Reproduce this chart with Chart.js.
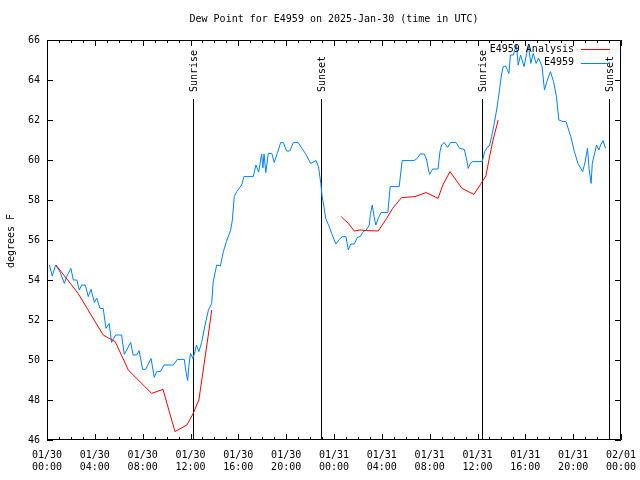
<!DOCTYPE html>
<html>
<head>
<meta charset="utf-8">
<script src="https://cdn.jsdelivr.net/npm/chart.js@4.4.1/dist/chart.umd.min.js"></script>
<style>
  html, body { margin: 0; padding: 0; background: #fff; }
</style>
</head>
<body>
<canvas id="chart" width="640" height="480"></canvas>
<script>
// hours since 01/30 00:00 UTC
const stationHours = [0.2, 0.44, 0.72, 1.09, 1.45, 1.64, 2.0, 2.2, 2.5, 2.7, 2.9, 3.2, 3.45, 3.68, 3.96, 4.15, 4.43, 4.7, 4.93, 5.2,
  5.4, 5.74, 6.24, 6.46, 7.0, 7.2, 7.5, 7.7, 8.0, 8.25, 8.7, 8.97, 9.17, 9.5, 9.78, 10.56, 10.9, 11.48, 11.6, 11.76,
  11.87, 12.0, 12.2, 12.37, 12.5, 12.7, 12.93, 13.2, 13.5, 13.77, 13.9, 14.19, 14.5, 14.75, 15.0, 15.36, 15.5, 15.66, 15.86, 16.28,
  16.47, 17.25, 17.47, 17.7, 17.95, 18.05, 18.15, 18.3, 18.5, 18.8, 19.0, 19.26, 19.54, 19.76, 20.04, 20.3, 20.6, 21.0, 21.6, 22.05,
  22.5, 22.7, 22.9, 23.0, 23.16, 23.3, 23.6, 23.8, 24.16, 24.44, 24.7, 25.0, 25.2, 25.4, 25.7, 25.95, 26.2, 26.45, 26.7, 26.95,
  27.05, 27.2, 27.35, 27.5, 27.7, 27.93, 28.5, 28.7, 29.45, 29.7, 30.7, 30.96, 31.2, 31.55, 31.75, 31.9, 32.0, 32.25, 32.7, 32.86,
  33.0, 33.2, 33.5, 33.75, 34.2, 34.5, 34.9, 35.1, 35.23, 35.4, 35.6, 36.4, 36.6, 36.85, 37.0, 37.18, 37.4, 37.6, 37.8, 38.0,
  38.15, 38.35, 38.63, 38.75, 39.0, 39.25, 39.4, 39.6, 39.9, 40.1, 40.27, 40.46, 40.66, 40.9, 41.1, 41.4, 41.6, 41.8, 42.1, 42.36,
  42.6, 42.8, 43.15, 43.4, 43.8, 44.1, 44.4, 44.8, 45.0, 45.2, 45.34, 45.5, 45.6, 45.76, 45.96, 46.15, 46.3, 46.5, 46.7];
const stationDew = [54.75, 54.2, 54.75, 54.4, 53.83, 54.17, 54.58, 54.0, 54.0, 53.5, 53.75, 53.75, 53.17, 53.53, 52.88, 53.1, 52.58, 52.58, 51.58, 51.83,
  50.88, 51.25, 51.25, 50.28, 50.88, 50.25, 50.25, 50.47, 49.53, 49.53, 50.08, 49.13, 49.42, 49.42, 49.75, 49.75, 50.03, 50.03, 49.5, 48.97,
  49.75, 50.33, 50.08, 50.42, 50.75, 50.42, 50.88, 51.7, 52.5, 52.83, 53.92, 54.75, 54.7, 55.42, 55.92, 56.5, 57.0, 58.17, 58.42, 58.75,
  59.17, 59.17, 59.75, 59.4, 60.3, 59.6, 60.3, 59.37, 60.33, 60.33, 59.88, 60.33, 60.87, 60.87, 60.45, 60.45, 60.87, 60.87, 60.33, 59.83,
  59.97, 59.67, 58.83, 58.2, 57.67, 57.08, 56.67, 56.33, 55.8, 56.03, 56.17, 56.17, 55.5, 55.8, 55.8, 56.13, 56.17, 56.42, 56.5, 56.75,
  57.33, 57.75, 57.17, 56.75, 57.08, 57.37, 57.37, 58.67, 58.67, 59.97, 59.97, 60.08, 60.3, 60.3, 60.0, 59.5, 59.28, 59.55, 59.55, 60.42,
  60.75, 60.88, 60.63, 60.88, 60.88, 60.58, 60.53, 60.0, 59.58, 59.83, 59.92, 59.92, 60.42, 60.67, 60.7, 61.17, 61.83, 62.5, 63.33, 64.25,
  64.67, 64.7, 64.33, 65.25, 65.25, 65.8, 64.75, 65.25, 64.67, 65.33, 65.67, 64.83, 65.33, 64.83, 65.1, 64.67, 63.5, 63.92, 64.42, 63.92,
  63.17, 62.0, 61.92, 61.92, 61.17, 60.42, 59.83, 59.42, 59.92, 60.58, 59.5, 58.83, 59.83, 60.25, 60.75, 60.5, 60.75, 60.97, 60.58];

// analysis, null breaks the line
const analysisHours = [0.75, 2.6, 4.7, 5.7, 6.8, 8.75, 9.7, 10.7, 11.7, 12.2, 12.7, 13.5, 13.77, 19.0,
  24.6, 25.2, 25.7, 26.2, 26.7, 27.7, 28.4, 28.9, 29.65, 30.77, 31.7, 32.7, 33.1, 33.7, 34.7, 35.7, 36.3, 36.7, 37.04, 37.3, 37.73];
const analysisDew = [54.75, 53.33, 51.25, 50.92, 49.5, 48.33, 48.53, 46.42, 46.75, 47.3, 48.0, 51.3, 52.5, null,
  57.17, 56.83, 56.45, 56.5, 56.47, 56.45, 57.08, 57.58, 58.12, 58.17, 58.37, 58.08, 58.75, 59.42, 58.58, 58.28, 58.83, 59.2, 60.25, 61.0, 62.0];

const sunLabels = ["Sunrise", "Sunset", "Sunrise", "Sunset"];
const sunHours = [12.2, 22.94, 36.34, 47.0];
const sunLineTop = 63.05;

const seriesNames = ["E4959 Analysis", "E4959"];
const seriesColors = ["#ff0000", "#0080ff"];

const FONT = "10px 'DejaVu Sans Mono'";

function pairs(xs, ys) {
  return xs.map((x, i) => ({ x: x, y: ys[i] }));
}

function pad2(n) {
  return (n < 10 ? "0" : "") + n;
}

const gnuplotLook = {
  id: "gnuplotLook",
  beforeDatasetsDraw: (chart) => {
    const { ctx, scales: { x, y } } = chart;
    ctx.save();
    ctx.strokeStyle = "#000";
    ctx.lineWidth = 1;
    ctx.fillStyle = "#000";
    ctx.font = FONT;
    sunHours.forEach((h, i) => {
      const px = Math.round(x.getPixelForValue(h)) + 0.5;
      ctx.beginPath();
      ctx.moveTo(px, y.getPixelForValue(sunLineTop));
      ctx.lineTo(px, y.getPixelForValue(46));
      ctx.stroke();

      ctx.save();
      ctx.translate(px + 1, 92);
      ctx.rotate(-Math.PI / 2);
      ctx.textAlign = "left";
      ctx.textBaseline = "middle";
      ctx.fillText(sunLabels[i], 0, 0);
      ctx.restore();
    });
    ctx.restore();
  },
  afterDatasetsDraw: (chart) => {
    const { ctx, chartArea: { left, right, top, bottom }, scales: { x, y } } = chart;
    ctx.save();
    ctx.strokeStyle = "#000";
    ctx.lineWidth = 1;

    // frame
    ctx.strokeRect(left + 0.5, top + 0.5, right - left - 1, bottom - top - 1);

    // inward ticks, hourly minor on x
    ctx.beginPath();
    for (let h = 0; h <= 48; h++) {
      const px = Math.round(x.getPixelForValue(h)) + 0.5;
      const len = h % 4 === 0 ? 6 : 3;
      ctx.moveTo(px, bottom);
      ctx.lineTo(px, bottom - len);
      ctx.moveTo(px, top);
      ctx.lineTo(px, top + len);
    }
    for (let v = 46; v <= 66; v += 2) {
      const py = Math.round(y.getPixelForValue(v)) + 0.5;
      ctx.moveTo(left, py);
      ctx.lineTo(left + 6, py);
      ctx.moveTo(right, py);
      ctx.lineTo(right - 6, py);
    }
    ctx.stroke();

    // title and axis label
    ctx.fillStyle = "#000";
    ctx.font = FONT;
    ctx.textAlign = "center";
    ctx.textBaseline = "middle";
    ctx.fillText("Dew Point for E4959 on 2025-Jan-30 (time in UTC)", (left + right) / 2, 19);

    ctx.save();
    ctx.translate(11, 241);
    ctx.rotate(-Math.PI / 2);
    ctx.fillText("degrees F", 0, 0);
    ctx.restore();

    // key, top right inside the frame
    ctx.textAlign = "right";
    seriesNames.forEach((name, i) => {
      const ly = 49 + i * 13.5;
      ctx.fillStyle = "#000";
      ctx.fillText(name, 574, ly);
      ctx.strokeStyle = seriesColors[i];
      ctx.beginPath();
      ctx.moveTo(581, Math.round(ly) + 0.5);
      ctx.lineTo(610, Math.round(ly) + 0.5);
      ctx.stroke();
    });
    ctx.restore();
  },
};

new Chart(document.getElementById("chart"), {
  type: "line",
  data: {
    datasets: [
      {
        label: seriesNames[0],
        data: pairs(analysisHours, analysisDew),
        borderColor: seriesColors[0],
        borderWidth: 1,
        pointRadius: 0,
        tension: 0,
        spanGaps: false,
      },
      {
        label: seriesNames[1],
        data: pairs(stationHours, stationDew),
        borderColor: seriesColors[1],
        borderWidth: 1,
        pointRadius: 0,
        tension: 0,
      },
    ],
  },
  options: {
    responsive: false,
    animation: false,
    devicePixelRatio: 1,
    layout: { padding: { left: 0, top: 40, right: 19, bottom: 0 } },
    plugins: { legend: { display: false }, tooltip: { enabled: false }, title: { display: false } },
    scales: {
      x: {
        type: "linear",
        min: 0,
        max: 48,
        afterFit: (s) => { s.height = 40; s.paddingLeft = 0; s.paddingRight = 0; },
        grid: { display: false, drawTicks: false },
        border: { display: false },
        ticks: {
          stepSize: 4,
          autoSkip: false,
          maxRotation: 0,
          padding: 10,
          color: "#000",
          font: { family: "DejaVu Sans Mono", size: 10, lineHeight: 1.15 },
          callback: (v) => {
            const day = 30 + Math.floor(v / 24);
            const date = day > 31 ? "02/01" : "01/" + day;
            return [date, pad2(v % 24) + ":00"];
          },
        },
      },
      y: {
        min: 46,
        max: 66,
        afterFit: (s) => { s.width = 47; s.paddingTop = 0; s.paddingBottom = 0; },
        grid: { display: false, drawTicks: false },
        border: { display: false },
        ticks: {
          stepSize: 2,
          padding: 7,
          color: "#000",
          font: { family: "DejaVu Sans Mono", size: 10 },
        },
      },
    },
  },
  plugins: [gnuplotLook],
});
</script>
</body>
</html>
